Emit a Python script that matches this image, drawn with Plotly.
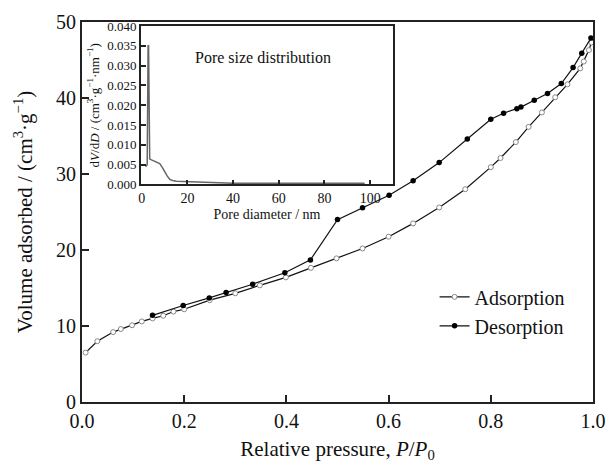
import plotly.graph_objects as go

# Main isotherm data
ads_p = [0.007, 0.030, 0.061, 0.076, 0.098, 0.117, 0.138, 0.159, 0.179, 0.200, 0.250, 0.300,
         0.348, 0.399, 0.448, 0.498, 0.549, 0.600, 0.648, 0.699, 0.750, 0.800, 0.819, 0.849,
         0.874, 0.900, 0.926, 0.950, 0.975, 0.982, 0.992, 0.997]
ads_v = [6.5, 8.0, 9.2, 9.6, 10.1, 10.6, 11.0, 11.35, 11.9, 12.2, 13.4, 14.3,
         15.35, 16.4, 17.65, 18.9, 20.2, 21.75, 23.5, 25.6, 28.0, 30.9, 32.1, 34.2,
         36.2, 38.1, 40.1, 41.8, 43.9, 44.8, 46.3, 47.3]

des_p = [0.138, 0.198, 0.249, 0.282, 0.334, 0.397, 0.447, 0.500, 0.549, 0.601, 0.648, 0.699,
         0.754, 0.800, 0.825, 0.851, 0.859, 0.885, 0.911, 0.938, 0.961, 0.978, 0.996]
des_v = [11.4, 12.7, 13.7, 14.4, 15.5, 17.0, 18.7, 24.0, 25.55, 27.2, 29.1, 31.5,
         34.6, 37.2, 38.0, 38.6, 38.8, 39.7, 40.6, 41.9, 44.0, 45.9, 47.9]

# Inset pore size distribution
psd_d = [1.7, 2.4, 2.8, 3.0, 3.5, 4.9, 6.5, 7.9, 9.0, 10.1, 11.2, 12.3, 13.5, 15.2, 20.0,
         25.4, 33.4, 40.0, 60.0, 80.0, 97.6]
psd_v = [0.0045, 0.0050, 0.0350, 0.0350, 0.0064, 0.0061, 0.0058, 0.0053, 0.0043, 0.0031,
         0.0021, 0.0013, 0.0010, 0.0008, 0.0007, 0.0006, 0.0005, 0.0003, 0.0003, 0.0003, 0.0003]

x_ticks = [0.0, 0.2, 0.4, 0.6, 0.8, 1.0]
y_ticks = [0, 10, 20, 30, 40, 50]
ix_ticks = [0, 20, 40, 60, 80, 100]
iy_ticks = [0.000, 0.005, 0.010, 0.015, 0.020, 0.025, 0.030, 0.035, 0.040]

FONT = "Liberation Serif, Times New Roman, serif"

fig = go.Figure()
fig.add_trace(go.Scatter(
    x=ads_p, y=ads_v, mode="lines+markers", name="Adsorption",
    line=dict(color="#111", width=1.2),
    marker=dict(symbol="circle", size=5, color="white", line=dict(color="#888", width=1)),
))
fig.add_trace(go.Scatter(
    x=des_p, y=des_v, mode="lines+markers", name="Desorption",
    line=dict(color="#111", width=1.2),
    marker=dict(symbol="circle", size=5.5, color="black"),
))
fig.add_trace(go.Scatter(
    x=psd_d, y=psd_v, mode="lines", showlegend=False,
    line=dict(color="#666", width=1.5), xaxis="x2", yaxis="y2",
))

axis_common = dict(showgrid=False, zeroline=False, showline=True, linecolor="#222",
                   mirror=True, ticks="inside", tickcolor="#222", automargin=False)

fig.update_layout(
    width=609, height=463,
    margin=dict(l=82, r=16, t=22, b=61),
    paper_bgcolor="white", plot_bgcolor="white",
    font=dict(family=FONT, color="#111", size=20),
    xaxis=dict(**axis_common, range=[0, 1], tickvals=x_ticks, tickformat=".1f",
               linewidth=2, ticklen=7, tickwidth=2,
               title=dict(text="Relative pressure, <i>P</i>/<i>P</i><sub>0</sub>",
                          font=dict(size=21), standoff=14)),
    yaxis=dict(**axis_common, range=[0, 50], tickvals=y_ticks,
               linewidth=2, ticklen=7, tickwidth=2,
               title=dict(text="Volume adsorbed / (cm<sup>3</sup>·g<sup>−1</sup>)",
                          font=dict(size=21), standoff=18)),
    xaxis2=dict(**axis_common, domain=[0.1155, 0.6086], anchor="y2", range=[-0.3, 110],
                tickvals=ix_ticks, linewidth=2, ticklen=4, tickwidth=1.5,
                tickfont=dict(size=14),
                title=dict(text="Pore diameter / nm", font=dict(size=14), standoff=4)),
    yaxis2=dict(**axis_common, domain=[0.5724, 0.9895], anchor="x2", range=[0, 0.040],
                tickvals=iy_ticks, tickformat=".3f", linewidth=2, ticklen=5, tickwidth=1.5,
                tickfont=dict(size=13),
                title=dict(text="d<i>V</i>/d<i>D</i> / (cm<sup>3</sup>·g<sup>−1</sup>·nm<sup>−1</sup>)",
                           font=dict(size=13), standoff=5)),
    legend=dict(x=0.69, y=0.328, xanchor="left", yanchor="top",
                bgcolor="rgba(0,0,0,0)", font=dict(size=20), tracegroupgap=0,
                itemwidth=30),
    annotations=[dict(text="Pore size distribution", xref="paper", yref="paper",
                      x=0.354, y=0.934, showarrow=False, font=dict(size=16))],
)

fig.write_html("out.html", config={"displayModeBar": False},
               post_script="document.body.style.margin='0';document.body.style.overflow='hidden';")
